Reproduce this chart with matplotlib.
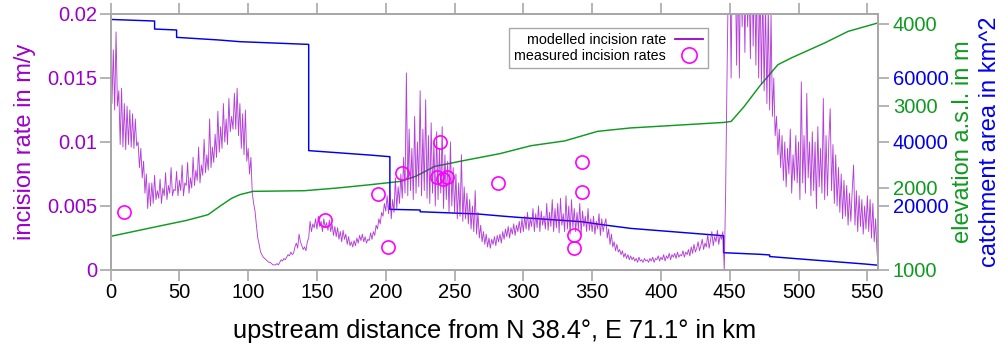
import numpy as np
import matplotlib
matplotlib.use("Agg")
import matplotlib.pyplot as plt
from matplotlib.lines import Line2D

plt.rcParams['font.family'] = ['Liberation Sans', 'DejaVu Sans']

PURPLE = '#9a00cc'
GREEN = '#109a20'
BLUE = '#0000ee'
MAGENTA = '#ff00ff'
GREY = '#a8a8a8'

# Modelled incision rate, 1 km spacing from km 0, in units of 1e-4 m/y
rate_e4 = [
    186, 130, 172, 125, 186, 128, 140, 98, 142, 96,
    130, 94, 128, 98, 125, 96, 122, 95, 118, 97,
    100, 80, 95, 72, 85, 60, 75, 48, 68, 50,
    68, 52, 74, 55, 62, 56, 71, 52, 64, 58,
    76, 55, 66, 60, 80, 58, 63, 62, 77, 58,
    70, 62, 82, 58, 68, 66, 84, 60, 72, 64,
    88, 66, 78, 70, 96, 68, 82, 74, 102, 76,
    90, 78, 118, 80, 96, 84, 106, 88, 124, 92,
    112, 95, 130, 100, 118, 98, 134, 108, 120, 110,
    138, 110, 142, 105, 130, 95, 122, 90, 125, 85,
    95, 75, 88, 60, 52, 46, 35, 25, 20, 14,
    12, 10, 9, 8, 7, 6, 6, 5, 4, 4,
    4, 5, 4, 6, 8, 7, 9, 8, 10, 12,
    11, 14, 12, 13, 18, 21, 17, 28, 22, 19,
    16, 18, 15, 22, 25, 38, 30, 36, 33, 40,
    32, 42, 34, 38, 30, 40, 33, 37, 31, 39,
    30, 36, 27, 34, 26, 33, 24, 30, 22, 31,
    24, 28, 20, 26, 19, 22, 18, 23, 19, 25,
    21, 27, 23, 28, 22, 26, 21, 24, 23, 29,
    24, 30, 27, 35, 32, 40, 36, 45, 42, 52,
    46, 58, 44, 62, 40, 55, 45, 72, 48, 65,
    52, 75, 56, 88, 60, 154, 58, 110, 62, 95,
    55, 120, 60, 100, 65, 140, 58, 110, 62, 133,
    56, 105, 52, 115, 60, 100, 50, 108, 55, 95,
    60, 112, 48, 90, 55, 85, 45, 100, 50, 80,
    45, 75, 40, 68, 42, 90, 38, 65, 40, 60,
    36, 55, 32, 50, 30, 62, 28, 45, 25, 35,
    22, 30, 20, 28, 18, 25, 17, 24, 20, 26,
    19, 27, 22, 28, 21, 30, 24, 32, 26, 34,
    25, 33, 28, 36, 27, 35, 30, 38, 29, 40,
    30, 42, 32, 45, 31, 40, 34, 48, 30, 44,
    33, 50, 30, 46, 35, 42, 32, 52, 31, 45,
    34, 55, 30, 48, 33, 52, 29, 56, 35, 44,
    30, 58, 32, 50, 28, 55, 33, 48, 30, 45,
    32, 52, 28, 46, 34, 42, 30, 48, 31, 40,
    30, 42, 28, 38, 32, 44, 27, 40, 30, 36,
    40, 25, 32, 20, 28, 18, 22, 15, 20, 14,
    16, 12, 15, 10, 13, 9, 12, 8, 11, 8,
    10, 7, 9, 6, 10, 7, 8, 6, 9, 7,
    8, 6, 9, 7, 10, 6, 9, 8, 11, 7,
    10, 8, 12, 7, 11, 9, 13, 8, 12, 10,
    13, 9, 14, 10, 12, 11, 15, 10, 14, 12,
    16, 11, 18, 13, 20, 14, 17, 22, 15, 19,
    24, 16, 21, 18, 28, 17, 23, 30, 19, 26,
    22, 31, 20, 27, 24, 30, 0, 60, 150, 230,
    250, 150, 260, 200, 240, 160, 250, 150, 260, 190,
    240, 170, 250, 190, 230, 165, 260, 175, 240, 160,
    250, 150, 230, 145, 220, 140, 210, 130, 205, 125,
    200, 120, 150, 105, 120, 90, 110, 80, 105, 70,
    100, 65, 95, 75, 110, 60, 90, 70, 105, 68,
    100, 55, 147, 68, 105, 60, 138, 72, 100, 58,
    108, 62, 100, 48, 112, 65, 95, 60, 134, 55,
    105, 58, 100, 126, 62, 98, 52, 90, 50, 80,
    45, 75, 40, 70, 42, 66, 35, 60, 38, 62,
    82, 35, 62, 30, 58, 34, 55, 28, 50, 32,
    58, 30, 55, 25, 52, 22, 40, 15, 0,
]
rate_km = np.arange(len(rate_e4))
rate = np.array(rate_e4) * 1e-4

# Measured incision rates
meas_km = [9.8, 155.9, 194.6, 201.4, 211.6, 239.5, 237.0, 241.9, 244.3,
           281.5, 342.4, 342.4, 336.8, 336.8]
meas_rate = [0.0045, 0.0039, 0.0059, 0.0018, 0.0076, 0.0100, 0.0073, 0.0071,
             0.0073, 0.0068, 0.0084, 0.0061, 0.0027, 0.0017]

# Elevation along the profile (m a.s.l.)
elev_km = [0, 35, 55, 70.8, 80, 88, 94, 103.6, 141, 165, 188.6, 211, 222,
           235.6, 260, 283, 305.6, 330, 354, 377.6, 400, 446, 451, 460, 472,
           485, 494.6, 519, 536, 557.5]
elev_m = [1406, 1530, 1600, 1670, 1780, 1870, 1915, 1955, 1963, 1996, 2036,
          2077, 2140, 2260, 2341, 2415, 2512, 2570, 2687, 2728, 2750, 2796,
          2808, 2980, 3244, 3500, 3581, 3765, 3906, 4008]

# Catchment area (km^2), stepping down at tributary junctions
area_km = [0, 32, 32, 48, 48, 78, 94, 144, 144, 189, 203, 203, 225, 225, 267,
           283, 296, 342, 359, 378, 445.5, 445.5, 472, 479, 479, 495, 548,
           556, 557.5]
area = [78300, 77800, 75300, 75000, 72700, 71900, 71350, 70500, 37300, 35900,
        35400, 18950, 18750, 18200, 17500, 16900, 16450, 15100, 14060, 13000,
        10700, 5400, 4900, 4700, 4200, 3650, 1875, 1560, 1500]

x_ticks = [0, 50, 100, 150, 200, 250, 300, 350, 400, 450, 500, 550]
rate_ticks = [0, 0.005, 0.01, 0.015, 0.02]
rate_ticklabels = ['0', '0.005', '0.01', '0.015', '0.02']
elev_ticks = [1000, 2000, 3000, 4000]
area_ticks = [20000, 40000, 60000]

fig = plt.figure(figsize=(10.05, 3.49), dpi=100)
ax = fig.add_axes([0.110, 0.2264, 0.7633, 0.7335])
ax_el = ax.twinx()
ax_ar = ax.twinx()

XMAX = 557.5

# catchment area
ax_ar.plot(area_km, area, color=BLUE, lw=1.05, zorder=2)
ax_ar.set_ylim(0, 80000)
ax_ar.set_yticks(area_ticks)
ax_ar.set_yticklabels([str(v) for v in area_ticks])

# elevation
ax_el.plot(elev_km, elev_m, color=GREEN, lw=1.05, zorder=2)
ax_el.set_ylim(996, 4118)
ax_el.set_yticks(elev_ticks)

# incision rate on top
ax.set_zorder(3)
ax.patch.set_visible(False)
ax.plot(rate_km, rate, color=PURPLE, lw=0.65, alpha=0.75, zorder=2)
ax.plot(meas_km, meas_rate, 'o', ms=9.5, mfc='none', mec=MAGENTA, mew=1.2,
        zorder=3, clip_on=False)
ax.set_xlim(0, XMAX)
ax.set_ylim(0, 0.02)
ax.set_xticks(x_ticks)
ax.set_yticks(rate_ticks)
ax.set_yticklabels(rate_ticklabels)

for a in (ax, ax_el, ax_ar):
    for s in a.spines.values():
        s.set_color(GREY)
        s.set_linewidth(1.4)
    a.set_xlim(0, XMAX)

ax.tick_params(axis='x', which='both', top=True, bottom=True, direction='out',
               length=8, width=1.2, color=GREY, labelsize=14.5, pad=1.5,
               labelcolor='black')
ax.tick_params(axis='y', direction='out', length=8, width=1.2, color=GREY,
               labelsize=14.5, labelcolor=PURPLE, pad=1.5)
ax_el.tick_params(axis='y', direction='out', length=8, width=1.2, color=GREY,
                  labelsize=14.5, labelcolor=GREEN, pad=3)
ax_ar.tick_params(axis='y', direction='out', length=8, width=1.2, color=GREY,
                  labelsize=14.5, labelcolor=BLUE, pad=3)

ax.set_xlabel('upstream distance from N 38.4°, E 71.1° in km', fontsize=18.3,
              labelpad=12)
ax.set_ylabel('incision rate in m/y', fontsize=17, color=PURPLE, labelpad=8)
fig.text(0.9585, 0.593, 'elevation a.s.l. in m', rotation=90, ha='center',
         va='center', fontsize=17, color=GREEN)
fig.text(0.9855, 0.593, 'catchment area in km^2', rotation=90, ha='center',
         va='center', fontsize=17, color=BLUE)

handles = [Line2D([], [], color=PURPLE, lw=1.3),
           Line2D([], [], ls='none', marker='o', ms=11, mfc='none',
                  mec=MAGENTA, mew=1.2)]
leg = ax.legend(handles, ['modelled incision rate', 'measured incision rates'],
                loc='upper right', bbox_to_anchor=(0.779, 0.947),
                markerfirst=False, fontsize=10.3, fancybox=False,
                framealpha=1, edgecolor=GREY, handlelength=2.0,
                borderpad=0.35, labelspacing=0.15, handletextpad=0.6,
                borderaxespad=0.0)
leg.get_frame().set_linewidth(1.0)

fig.savefig('out.png', dpi=100)
